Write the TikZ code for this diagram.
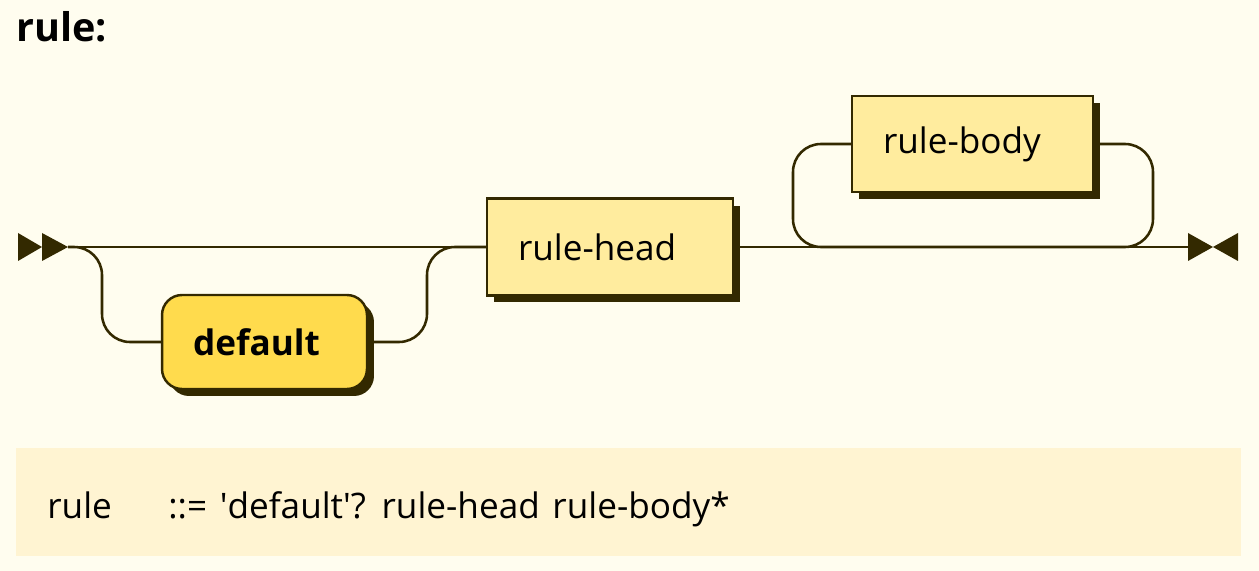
\documentclass[tikz,border=0pt]{standalone}
\usepackage{fontspec}
\setmainfont{Open Sans}
\usetikzlibrary{positioning,shadows}

\definecolor{ink}{HTML}{332900}
\definecolor{paper}{HTML}{FFFDEF}
\definecolor{band}{HTML}{FFF4D2}
\definecolor{ntfill}{HTML}{FFEC9E}
\definecolor{tfill}{HTML}{FFDB4D}

\begin{document}
\begin{tikzpicture}[x=0.02cm, y=-0.02cm,
    line/.style={draw=ink, line width=1.45pt},
    nonterm/.style={rectangle, draw=ink, line width=1.4pt, fill=ntfill, text=black,
        inner xsep=0.62cm, inner ysep=0pt, align=left, font=\fontsize{20}{23}\selectfont,
        drop shadow={shadow xshift=0.14cm, shadow yshift=-0.14cm, fill=ink, opacity=1}},
    term/.style={nonterm, fill=tfill, rounded corners=0.4cm,
        font=\fontsize{20}{23}\selectfont\bfseries},
    curvy/.style={line, rounded corners=0.56cm},
    ebnf/.style={anchor=base west, inner sep=0pt, font={\fontsize{20}{23}\selectfont\spaceskip 0.36em\relax}}
]

\fill[paper] (0,0) rectangle (1259,571);
\node[anchor=base west, inner sep=0pt, font=\fontsize{22.5}{26}\selectfont\bfseries] (title) at (16,42) {rule:};

% start and end marks
\coordinate (start) at (68,247);
\coordinate (stop) at (1188,247);
\fill[ink] (18,233) -- (42,247) -- (18,261) -- cycle;
\fill[ink] (42,233) -- (68,247) -- (42,261) -- cycle;
\fill[ink] (1188,233) -- (1213,247) -- (1188,261) -- cycle;
\fill[ink] (1238,233) -- (1213,247) -- (1238,261) -- cycle;

\node[term, text width=2.86cm, minimum height=1.88cm] (default) at (264.5,342) {default};
\node[nonterm, text width=3.68cm, minimum height=1.94cm] (rulehead) at (610,247) {rule-head};
\node[nonterm, text width=3.58cm, minimum height=1.92cm] (rulebody) at (972.5,144) {rule-body};

\draw[line] (start) -- (rulehead.west);
\draw[curvy] (start) -- (102,247) -- (102,342) -- (default.west);
\draw[curvy] (default.east) -- (427,342) -- (427,247) -- (rulehead.west);
\draw[line] (rulehead.east) -- (stop);
\draw[curvy] (rulebody.east) -- (1153,144) -- (1153,247) -- (793,247) -- (793,144) -- (rulebody.west);

% grammar line
\fill[band] (16,448) rectangle (1241,556);
\node[ebnf] (lhs) at (47,518) {rule};
\node[ebnf] (rhs) at (168,518) {::= \textquotesingle default\textquotesingle ? rule-head rule-body*};

\end{tikzpicture}
\end{document}
